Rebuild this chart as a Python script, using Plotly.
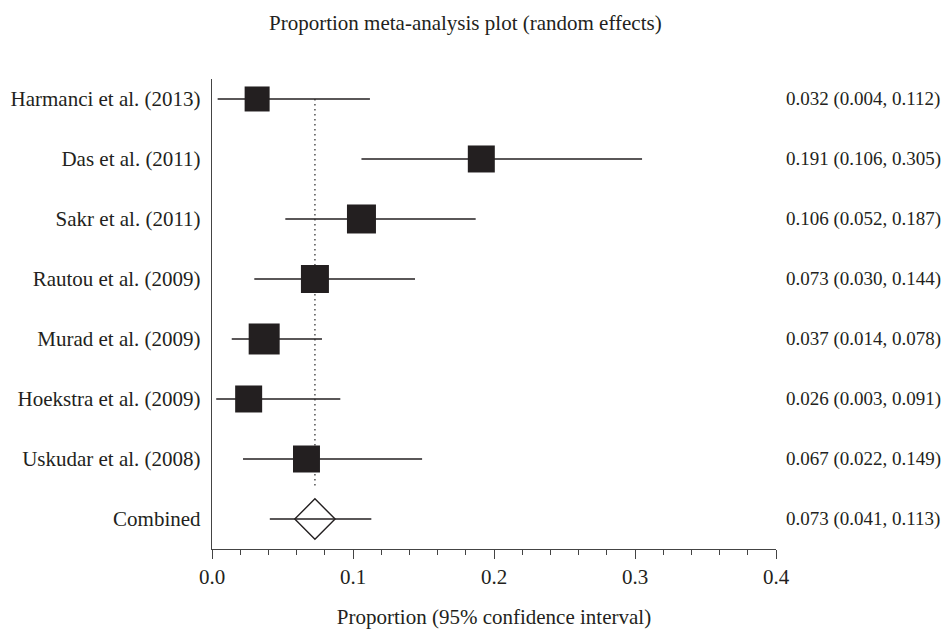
import plotly.graph_objects as go

studies = ["Harmanci et al. (2013)", "Das et al. (2011)", "Sakr et al. (2011)",
           "Rautou et al. (2009)", "Murad et al. (2009)", "Hoekstra et al. (2009)",
           "Uskudar et al. (2008)"]
est = [0.032, 0.191, 0.106, 0.073, 0.037, 0.026, 0.067]
lo = [0.004, 0.106, 0.052, 0.030, 0.014, 0.003, 0.022]
hi = [0.112, 0.305, 0.187, 0.144, 0.078, 0.091, 0.149]
box_px = [25, 27, 29, 28, 31, 27, 27]

comb_label = "Combined"
comb_est = 0.073
comb_lo = 0.041
comb_hi = 0.113

x_ticks = [0.0, 0.1, 0.2, 0.3, 0.4]

INK = "#231f20"
AXC = "#444444"
FONT = "Liberation Serif"
FS = 21
FS_RIGHT = 19

# page body has an 8px margin, so the figure is drawn 8px smaller
OFF = 8
W, H = 952 - OFF, 629 - OFF
L, R, T, B = 212 - OFF, 952 - 776, 79 - OFF, 629 - 549

labels = studies + [comb_label]
ypos = list(range(len(labels)))

fig = go.Figure()

fig.add_shape(type="line", x0=comb_est, x1=comb_est, y0=0, y1=6.45,
              xref="x", yref="y", line=dict(color="#444444", width=1.4, dash="1.5px,3.5px"),
              layer="below")

fig.add_trace(go.Scatter(
    x=est, y=ypos[:len(studies)], mode="markers",
    marker=dict(symbol="square", size=box_px, color=INK, opacity=1, line=dict(width=0)),
    error_x=dict(type="data", symmetric=False,
                 array=[h - e for h, e in zip(hi, est)],
                 arrayminus=[e - l for e, l in zip(est, lo)],
                 color=INK, thickness=1.4, width=0),
    showlegend=False, hoverinfo="skip"))

fig.add_trace(go.Scatter(
    x=[comb_est], y=[ypos[-1]], mode="markers",
    marker=dict(symbol="diamond-open", size=31, color=INK, opacity=1,
                line=dict(width=1.4, color=INK)),
    error_x=dict(type="data", symmetric=False, array=[comb_hi - comb_est],
                 arrayminus=[comb_est - comb_lo], color=INK, thickness=1.4, width=0),
    showlegend=False, hoverinfo="skip"))

all_est = est + [comb_est]
all_lo = lo + [comb_lo]
all_hi = hi + [comb_hi]
for i, (e, l, h) in enumerate(zip(all_est, all_lo, all_hi)):
    fig.add_annotation(x=1.0, xref="paper", y=i, yref="y", xanchor="left", xshift=8,
                       text=f"{e:.3f} ({l:.3f}, {h:.3f})", showarrow=False,
                       font=dict(family=FONT, size=FS_RIGHT, color=INK))

pw = W - L - R
ph = H - T - B
fig.add_annotation(x=(465 - OFF - L) / pw, xref="paper", y=1 + (T - (23 - OFF)) / ph,
                   yref="paper", xanchor="center", yanchor="middle", showarrow=False,
                   text="Proportion meta-analysis plot (random effects)",
                   font=dict(family=FONT, size=FS, color=INK))

fig.update_layout(
    width=W, height=H,
    margin=dict(l=L, r=R, t=T, b=B, autoexpand=False),
    plot_bgcolor="white", paper_bgcolor="white",
    font=dict(family=FONT, size=FS, color=INK),
    xaxis=dict(range=[0, 0.4], showline=True, linecolor=AXC, linewidth=1.4,
               tickvals=x_ticks, tickformat=".1f", ticks="outside", ticklen=9,
               tickwidth=1.4, tickcolor=AXC, showgrid=False, zeroline=False,
               minor=dict(dtick=0.02, ticks="outside", ticklen=5, tickwidth=1.4,
                          tickcolor=AXC, showgrid=False),
               title=dict(text="Proportion (95% confidence interval)", standoff=20,
                          font=dict(family=FONT, size=FS, color=INK))),
    yaxis=dict(range=[7.5, -0.333], showline=True, linecolor=AXC, linewidth=1.4,
               tickvals=ypos, ticktext=labels, ticks="", showgrid=False, zeroline=False,
               ticklabelstandoff=6),
)

fig.write_html("out.html")
